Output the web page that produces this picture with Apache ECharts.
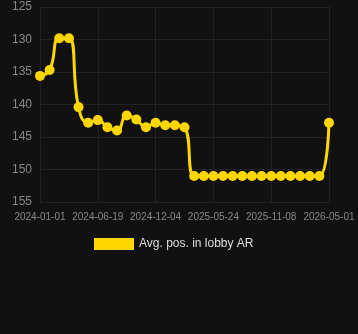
<!DOCTYPE html>
<html>
<head>
<meta charset="utf-8">
<script src="https://cdn.jsdelivr.net/npm/echarts@6/dist/echarts.min.js"></script>
<style>
  html, body { margin: 0; padding: 0; background: #111111; }
  #chart { width: 358px; height: 334px; }
</style>
</head>
<body>
<div id="chart"></div>
<script>
// dates of each sample (labels shown every 6th)
var dates = [
    '2024-01-01', '2024-01-29', '2024-02-26', '2024-03-25', '2024-04-22', '2024-05-21',
    '2024-06-19', '2024-07-17', '2024-08-14', '2024-09-11', '2024-10-09', '2024-11-06',
    '2024-12-04', '2025-01-01', '2025-01-29', '2025-02-26', '2025-03-26', '2025-04-24',
    '2025-05-24', '2025-06-21', '2025-07-19', '2025-08-16', '2025-09-13', '2025-10-11',
    '2025-11-08', '2025-12-07', '2026-01-05', '2026-02-02', '2026-03-03', '2026-04-01',
    '2026-05-01'
]
// average position in lobby
var avgPos = [
    135.6, 134.7, 129.8, 129.8, 140.4, 142.8,
    142.4, 143.5, 144.0, 141.7, 142.3, 143.5,
    142.8, 143.2, 143.2, 143.5, 151, 151,
    151, 151, 151, 151, 151, 151,
    151, 151, 151, 151, 151, 151,
    142.8
]
var seriesName = 'Avg. pos. in lobby AR'

var chart = echarts.init(document.getElementById('chart'))
var option = {
    backgroundColor: '#111111',
    animation: false,
    legend: {
        top: 233,
        left: 89,
        itemWidth: 40,
        itemHeight: 12,
        icon: 'rect',
        textStyle: {
            color: '#dddddd',
            fontSize: 12
        },
        data: [seriesName]
    },
    grid: {
        left: 40,
        right: 29,
        top: 7,
        bottom: 132
    },
    xAxis: {
        type: 'category',
        boundaryGap: false,
        data: dates,
        axisLine: { show: false },
        axisTick: { show: false },
        axisLabel: {
            interval: 5,
            color: '#888888',
            fontSize: 10,
            margin: 10
        },
        splitLine: {
            show: true,
            interval: 5,
            lineStyle: { color: '#222222' }
        }
    },
    yAxis: {
        type: 'value',
        inverse: true,
        min: 125,
        max: 155,
        interval: 5,
        axisLine: { show: false },
        axisTick: { show: false },
        axisLabel: {
            color: '#888888',
            fontSize: 12,
            margin: 8
        },
        splitLine: {
            lineStyle: { color: '#222222' }
        }
    },
    series: [
        {
            name: seriesName,
            type: 'line',
            smooth: true,
            symbol: 'circle',
            symbolSize: 10,
            showAllSymbol: true,
            itemStyle: { color: '#FFD700' },
            lineStyle: { color: '#FFD700', width: 3 },
            data: avgPos
        }
    ]
}
chart.setOption(option)
</script>
</body>
</html>
